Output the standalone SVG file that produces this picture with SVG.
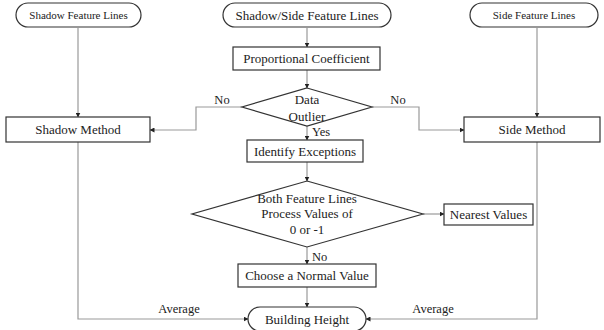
<svg xmlns="http://www.w3.org/2000/svg" width="604" height="330" viewBox="0 0 604 330">
<defs>
<marker id="ah" markerWidth="5" markerHeight="5" refX="4.5" refY="2.5" orient="auto" markerUnits="userSpaceOnUse">
<path d="M0,0 L5,2.5 L0,5 Z" fill="#222"/>
</marker>
<style>
.s{fill:#fff;stroke:#333;stroke-width:1.2}
.t{font-family:"Liberation Serif","Times New Roman",serif;font-size:13px;fill:#222;text-anchor:middle}
.sm{font-size:11px}
.c{fill:none;stroke:#999;stroke-width:1.2;marker-end:url(#ah)}
.l{font-family:"Liberation Serif","Times New Roman",serif;font-size:12.5px;fill:#222}
</style>
</defs>
<rect width="604" height="330" fill="#fff"/>
<g id="connectors">
<path class="c" d="M78,28 V117"/>
<path class="c" d="M307,28 V47"/>
<path class="c" d="M537,28 V117"/>
<path class="c" d="M307,70 V88"/>
<path class="c" d="M242,107 H196 V130 H150"/>
<path class="c" d="M372,107 H419 V130 H464"/>
<path class="c" d="M307,126 V140"/>
<path class="c" d="M307,162 V181"/>
<path class="c" d="M423,214 H444"/>
<path class="c" d="M307,247 V264"/>
<path class="c" d="M307,287 V307"/>
<path class="c" d="M78,142 V319 H248"/>
<path class="c" d="M537,142 V319 H366"/>
<text class="l" x="222" y="104" text-anchor="middle">No</text>
<text class="l" x="398" y="104" text-anchor="middle">No</text>
<text class="l" x="312" y="136">Yes</text>
<text class="l" x="312" y="261">No</text>
<text class="l" x="179" y="313" text-anchor="middle">Average</text>
<text class="l" x="433" y="313" text-anchor="middle">Average</text>
</g>
<g id="shadow-lines">
<rect class="s" x="16" y="3" width="125" height="24" rx="12"/>
<text class="t sm" x="78.5" y="19">Shadow Feature Lines</text>
</g>
<g id="shadow-side-lines">
<rect class="s" x="223" y="3" width="168" height="24" rx="12"/>
<text class="t" x="307" y="20">Shadow/Side Feature Lines</text>
</g>
<g id="side-lines">
<rect class="s" x="470" y="3" width="128" height="24" rx="12"/>
<text class="t sm" x="534" y="19">Side Feature Lines</text>
</g>
<g id="proportional">
<rect class="s" x="233" y="47" width="147" height="23"/>
<text class="t" x="306.5" y="63">Proportional Coefficient</text>
</g>
<g id="outlier">
<path class="s" d="M307,88 L372,107 L307,126 L242,107 Z"/>
<text class="t" x="307" y="104">Data</text>
<text class="t" x="307" y="121">Outlier</text>
</g>
<g id="shadow-method">
<rect class="s" x="6" y="117" width="144" height="25"/>
<text class="t" x="78" y="134">Shadow Method</text>
</g>
<g id="side-method">
<rect class="s" x="464" y="117" width="136" height="25"/>
<text class="t" x="532" y="134">Side Method</text>
</g>
<g id="identify">
<rect class="s" x="247" y="140" width="116" height="22"/>
<text class="t" x="305" y="156">Identify Exceptions</text>
</g>
<g id="both">
<path class="s" d="M307,181 L423,214 L307,247 L192,214 Z"/>
<text class="t" x="307" y="203">Both Feature Lines</text>
<text class="t" x="307" y="218">Process Values of</text>
<text class="t" x="307" y="234">0 or -1</text>
</g>
<g id="nearest">
<rect class="s" x="444" y="204" width="89" height="21"/>
<text class="t" x="488.5" y="219">Nearest Values</text>
</g>
<g id="normal">
<rect class="s" x="238" y="264" width="138" height="23"/>
<text class="t" x="307" y="280">Choose a Normal Value</text>
</g>
<g id="building">
<rect class="s" x="248" y="307" width="118" height="24" rx="12"/>
<text class="t" x="307" y="324">Building Height</text>
</g>
</svg>
